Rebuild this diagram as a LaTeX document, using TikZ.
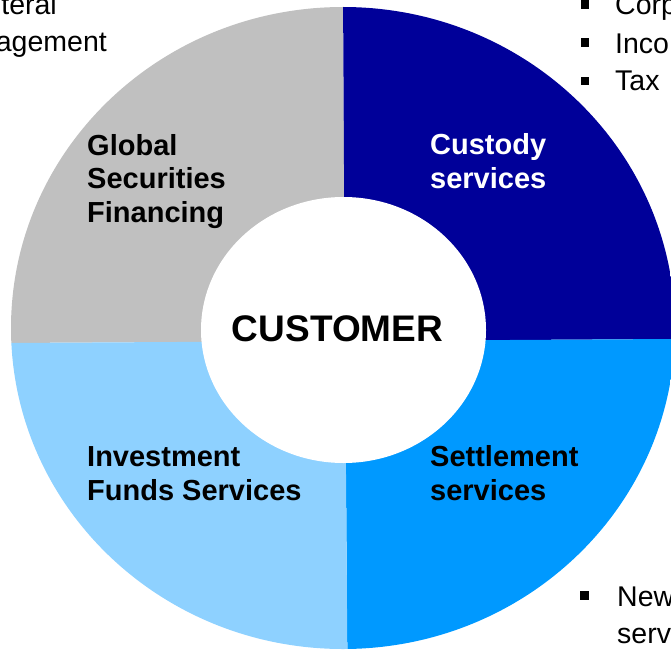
\documentclass[tikz,border=0pt]{standalone}
\usepackage{fontspec}
\setmainfont{Liberation Sans}
\definecolor{cgray}{RGB}{192,192,192}
\definecolor{cnavy}{RGB}{0,0,153}
\definecolor{cblue}{RGB}{0,153,255}
\definecolor{clight}{RGB}{142,209,255}
\begin{document}
\begin{tikzpicture}[x=1pt,y=-1pt,
  lbl/.style={inner sep=0pt, anchor=base west, font=\fontsize{29}{34}\selectfont\bfseries},
  side/.style={inner sep=0pt, font=\fontsize{28.5}{34}\selectfont},
  bul/.style={fill=black, draw=none, inner sep=0pt, minimum size=8.5pt}]
\useasboundingbox (0,0) rectangle (671,650);
% donut quadrants
\begin{scope}
  \clip (343,328) ellipse [x radius=332, y radius=321];
  \fill[cgray]  (343,-10) -- (345,341) -- (-10,343.1) -- (-10,-10) -- cycle;
  \fill[cnavy]  (343,-10) -- (345,341) -- (690,338.9) -- (690,-10) -- cycle;
  \fill[cblue]  (345,341) -- (690,338.9) -- (690,690) -- (347.6,690) -- cycle;
  \fill[clight] (345,341) -- (-10,343.1) -- (-10,690) -- (347.6,690) -- cycle;
\end{scope}
\fill[white] (343.5,330) ellipse [x radius=142.5, y radius=133];
% centre label
\node[inner sep=0pt, anchor=base, font=\fontsize{37}{44}\selectfont\bfseries] (cust) at (337.5,341.7) {CUSTOMER};
% segment labels
\node[lbl] (g1) at (87,155) {Global};
\node[lbl] (g2) at (87,188.5) {Securities};
\node[lbl] (g3) at (87,222) {Financing};
\node[lbl, text=white] (c1) at (430,154) {Custody};
\node[lbl, text=white] (c2) at (430,188) {services};
\node[lbl] (i1) at (87,466.7) {Investment};
\node[lbl] (i2) at (87,500) {Funds Services};
\node[lbl] (s1) at (430,466.7) {Settlement};
\node[lbl] (s2) at (430,500) {services};
% outside texts (cut by the picture edge, as in the reference)
\node[side, anchor=base east] (l1) at (57,15) {teral};
\node[side, anchor=base east] (l2) at (107,52) {agement};
\node[bul] (b1) at (585,4.3) {};
\node[bul] (b2) at (585,42.3) {};
\node[bul] (b3) at (585,80.8) {};
\node[side, anchor=base west] (r1) at (615,15) {Corp};
\node[side, anchor=base west] (r2) at (615,53.3) {Inco};
\node[side, anchor=base west] (r3) at (615,90.7) {Tax};
\node[bul] (b4) at (584.5,595.3) {};
\node[side, anchor=base west] (n1) at (617,606.7) {New};
\node[side, anchor=base west] (n2) at (617,643) {serv};
\end{tikzpicture}
\end{document}
